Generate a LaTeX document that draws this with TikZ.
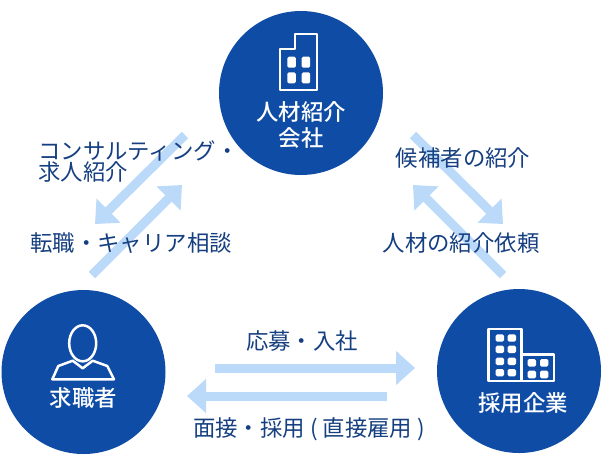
\documentclass[tikz,border=0pt]{standalone}
\usepackage{fontspec}
\setmainfont{Noto Sans CJK JP}[BoldFont={Noto Sans CJK JP Medium}]
\usetikzlibrary{arrows.meta,positioning}
\definecolor{hubblue}{HTML}{0F4CA6}
\definecolor{arblue}{HTML}{BBD9F8}
\definecolor{txtblue}{HTML}{153F80}

\begin{document}
\begin{tikzpicture}[
  x=1pt, y=-1pt,
  hub/.style={circle, fill=hubblue, minimum size=164pt, inner sep=0pt},
  ar/.style={-{Triangle[length=19pt,width=33pt]}, line width=9pt, arblue},
  lb/.style={font=\fontsize{22.4}{21}\selectfont, text=txtblue, inner sep=0pt, align=left},
  hublb/.style={font=\fontsize{22.4}{26}\selectfont\bfseries, text=white, inner sep=0pt, align=center},
  ic/.style={draw=white, line width=2.5pt, line join=round},
  win/.style={fill=white, rounded corners=1.5pt}
]
  \useasboundingbox (0,0) rectangle (609,475);

  \node[hub] (agent)  at (301,93)  {};
  \node[hub] (seeker) at (83.5,372) {};
  \node[hub] (firm)   at (519,371) {};

  % arrow ends
  \coordinate (a1) at (185,135);  \coordinate (a2) at (95,224);
  \coordinate (b1) at (92,275);   \coordinate (b2) at (182,185);
  \coordinate (c1) at (413,135);  \coordinate (c2) at (503,224);
  \coordinate (d1) at (503,275);  \coordinate (d2) at (413,185);
  \coordinate (e1) at (215,368);  \coordinate (e2) at (415,368);
  \coordinate (f1) at (387,396);  \coordinate (f2) at (187,396);

  \draw[ar] (a1)--(a2);
  \draw[ar] (b1)--(b2);
  \draw[ar] (c1)--(c2);
  \draw[ar] (d1)--(d2);
  \draw[ar] (e1)--(e2);
  \draw[ar] (f1)--(f2);

  \node[lb, anchor=west] (consult) at (38,162) {コンサルティング・\\求人紹介};
  \node[lb] (career) at (131,243) {転職・キャリア相談};
  \node[lb] (cand)   at (463,158) {候補者の紹介};
  \node[lb] (req)    at (461,243) {人材の紹介依頼};
  \node[lb] (apply)  at (302,341) {応募・入社};
  \node[lb] (hire)   at (309,429) {面接・採用 ( 直接雇用 )};

  \node[hublb] (agentlb)  at (301,125)   {人材紹介\\会社};
  \node[hublb] (seekerlb) at (83.5,398)  {求職者};
  \node[hublb] (firmlb)   at (523,403)   {採用企業};

  % agent icon
  \draw[ic] (280,49)--(295,49)--(295,34)--(317,34)--(317,90)--(280,90)--cycle;
  \foreach \px in {287.3,301.7}
    \foreach \py in {56.7,72.3}
      \fill[win] (\px,\py) rectangle ++(8.5,11);

  % seeker icon
  \draw[ic] (82.7,343.3) ellipse [x radius=13.5, y radius=18];
  \draw[ic] (52.3,379.3)--(58.3,366)--(72.7,360.7)--(82.7,368.3)--(92.7,360.7)
    --(107.3,366)--(114,379.3)--cycle;

  % firm icon
  \draw[ic] (488.3,329) rectangle (521.7,381);
  \draw[ic] (521.7,354.3) rectangle (554,381);
  \foreach \px in {495.7,507.7}
    \foreach \py in {334.3,345.7,357.7,369}
      \fill[win] (\px,\py) rectangle ++(8.3,7.4);
  \foreach \px in {527.7,540}
    \foreach \py in {359,370.7}
      \fill[win] (\px,\py) rectangle ++(8.3,7.6);
\end{tikzpicture}
\end{document}
